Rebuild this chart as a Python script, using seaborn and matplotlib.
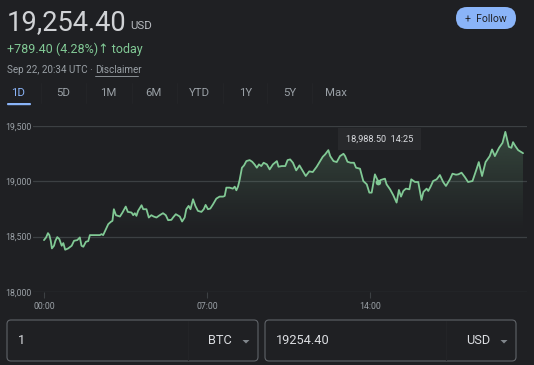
import numpy as np
import pandas as pd
import seaborn as sns
import matplotlib.pyplot as plt
from matplotlib.patches import FancyBboxPatch, Polygon, Rectangle
from matplotlib.lines import Line2D
from matplotlib.colors import to_rgb

# BTC price over the day (hours since 00:00 UTC, USD)
hours = [0.00, 0.09, 0.17, 0.23, 0.29, 0.34, 0.43, 0.49, 0.57, 0.66, 0.76, 0.83, 0.91,
         1.04, 1.19, 1.29, 1.43, 1.54, 1.61, 1.69, 1.80, 1.90, 1.97, 2.19, 2.40, 2.47,
         2.54, 2.66, 2.76, 2.87, 2.94, 3.00, 3.09, 3.26, 3.37, 3.51, 3.60, 3.76, 3.83,
         3.90, 3.97, 4.04, 4.19, 4.26, 4.40, 4.50, 4.61, 4.71, 4.83, 4.97, 5.11, 5.23,
         5.33, 5.47, 5.54, 5.66, 5.83, 5.93, 6.04, 6.11, 6.21, 6.29, 6.40, 6.50, 6.61,
         6.76, 6.86, 6.94, 7.04, 7.14, 7.26, 7.40, 7.54, 7.69, 7.76, 7.83, 7.97, 8.11,
         8.19, 8.26, 8.33, 8.40, 8.50, 8.59, 8.69, 8.83, 8.94, 9.04, 9.14, 9.23, 9.33,
         9.43, 9.57, 9.69, 9.83, 10.00, 10.07, 10.21, 10.36, 10.46, 10.57, 10.69, 10.83,
         10.97, 11.24, 11.39, 11.54, 11.71, 11.97, 12.07, 12.21, 12.29, 12.43, 12.57,
         12.71, 12.86, 12.93, 13.03, 13.17, 13.31, 13.40, 13.57, 13.71, 13.86, 13.97,
         14.07, 14.21, 14.36, 14.46, 14.64, 14.71, 14.86, 15.00, 15.14, 15.24, 15.33,
         15.43, 15.54, 15.69, 15.77, 15.93, 16.07, 16.21, 16.29, 16.43, 16.50, 16.60,
         16.71, 16.86, 17.00, 17.14, 17.26, 17.43, 17.54, 17.69, 17.79, 17.93, 18.07,
         18.21, 18.40, 18.57, 18.67, 18.81, 18.96, 19.14, 19.24, 19.36, 19.54, 19.69,
         19.81, 19.96, 20.07, 20.14, 20.24, 20.36, 20.57]
prices = [18469, 18493, 18532, 18514, 18463, 18394, 18418, 18463, 18496, 18478, 18418,
          18442, 18382, 18394, 18418, 18463, 18469, 18493, 18418, 18409, 18454, 18460,
          18514, 18514, 18514, 18523, 18514, 18568, 18613, 18634, 18643, 18748, 18694,
          18682, 18718, 18772, 18724, 18718, 18694, 18712, 18688, 18733, 18784, 18748,
          18748, 18673, 18694, 18682, 18673, 18694, 18712, 18694, 18649, 18652, 18673,
          18703, 18682, 18637, 18673, 18748, 18778, 18748, 18838, 18778, 18733, 18724,
          18748, 18787, 18748, 18754, 18793, 18844, 18862, 18862, 18868, 18943, 18943,
          18934, 18952, 18919, 18952, 19012, 19123, 19144, 19183, 19192, 19177, 19153,
          19123, 19153, 19138, 19168, 19153, 19108, 19153, 19183, 19132, 19138, 19138,
          19192, 19198, 19168, 19099, 19144, 19048, 19090, 19084, 19132, 19222, 19243,
          19282, 19228, 19183, 19174, 19228, 19249, 19228, 19177, 19168, 19168, 19123,
          19114, 19003, 18973, 18898, 18898, 19063, 18994, 19012, 19024, 18973, 18928,
          18874, 18808, 18922, 18862, 18913, 18934, 18928, 19018, 18994, 18994, 18832,
          18904, 18934, 18913, 18952, 19003, 19018, 19057, 18994, 18958, 19018, 19069,
          19060, 19063, 19078, 19039, 18994, 19003, 19108, 19174, 19048, 19174, 19228,
          19288, 19228, 19303, 19348, 19447, 19312, 19303, 19354, 19318, 19282, 19254.4]

y_ticks = [18000, 18500, 19000, 19500]
x_ticks = [0, 7, 14]
x_labels = ['00:00', '07:00', '14:00']
tabs = ['1D', '5D', '1M', '6M', 'YTD', '1Y', '5Y', 'Max']
hover_hour, hover_price, hover_time = 14.36, 18988.50, '14:25'

bg = '#1f2023'
green = '#81c995'
grid_c = '#3c4043'
grey = '#9aa0a6'
light = '#dadce0'

sns.set_theme(style='dark', rc={'figure.facecolor': bg, 'axes.facecolor': bg})
plt.rcParams['font.family'] = ['Roboto', 'DejaVu Sans']

W, H = 534, 365
fig = plt.figure(figsize=(W / 100, H / 100), dpi=100)

# overlay in pixel coordinates for the page chrome
ov = fig.add_axes([0, 0, 1, 1])
ov.set_xlim(0, W)
ov.set_ylim(H, 0)
ov.axis('off')
ov.set_facecolor('none')

ov.text(7, 30, '19,254.40', fontsize=19.6, color='#d0d2d5')
ov.text(130, 29, 'USD', fontsize=8.2, color='#b8bbc0')
ov.text(7, 53, '+789.40 (4.28%)\u2191 today', fontsize=9, color=green)
ov.text(7, 73, 'Sep 22, 20:34 UTC \u00b7', fontsize=7.1, color=grey)
ov.text(95, 73, 'Disclaimer', fontsize=7.1, color=grey)
ov.add_line(Line2D([95, 138], [75.5, 75.5], color=grey, lw=0.6))

# Follow button
ov.add_patch(FancyBboxPatch((456, 7), 60, 22, boxstyle='round,pad=0,rounding_size=11',
                            facecolor='#8ab4f8', edgecolor='none'))
ov.text(486, 18.5, '+  Follow', fontsize=7.5, color='#202124', ha='center', va='center')

# range tabs
tab_x = [18, 63, 108, 153, 199, 246, 290, 336]
for i, (t, x) in enumerate(zip(tabs, tab_x)):
    ov.text(x, 93, t, fontsize=8.2, ha='center', va='center',
            color='#8ab4f8' if i == 0 else grey)
for x in [41, 86, 132, 177, 223, 267, 312]:
    ov.add_line(Line2D([x, x], [83, 103], color='#232427', lw=0.8))
ov.add_patch(FancyBboxPatch((7, 103), 24, 2.2, boxstyle='round,pad=0,rounding_size=1',
                            facecolor='#8ab4f8', edgecolor='none'))

# converter boxes
for x0, left_txt, unit, sep in [(7, '1', 'BTC', 188), (265, '19254.40', 'USD', 446)]:
    ov.add_patch(FancyBboxPatch((x0, 320), 251, 41, boxstyle='round,pad=0,rounding_size=4',
                                facecolor='none', edgecolor='#5f6368', lw=0.8))
    ov.add_line(Line2D([sep, sep], [321, 360], color='#232427', lw=0.8))
    ov.text(x0 + 11, 341, left_txt, fontsize=9.2, color=light, va='center')
    ov.text(x0 + 225, 341, unit, fontsize=9.2, color=light, va='center', ha='right')
    tx = x0 + 239
    ov.add_patch(Polygon([(tx - 3.5, 340), (tx + 3.5, 340), (tx, 343.5)],
                         closed=True, facecolor='#80868b', edgecolor='none'))

# price chart
ax = fig.add_axes([33 / W, 73 / H, 494 / W, 166 / H])
df = pd.DataFrame({'hour': hours, 'price': prices})

verts = [(hours[0], 18000)] + list(zip(hours, prices)) + [(hours[-1], 18000)]
clip = Polygon(verts, closed=True, facecolor='none', edgecolor='none')
ax.add_patch(clip)
grad = np.zeros((256, 1, 4))
grad[:, 0, :3] = to_rgb(green)
grad[:, 0, 3] = np.linspace(0.0, 0.3, 256) ** 1.2
img = ax.imshow(grad, extent=[hours[0], hours[-1], 18520, 19450], origin='lower',
                aspect='auto', zorder=1, interpolation='bilinear')
img.set_clip_path(clip)

sns.lineplot(data=df, x='hour', y='price', ax=ax, color=green, lw=1.3, zorder=3)
ax.scatter([hover_hour], [hover_price], s=16, color=green, zorder=4, edgecolor='none')

ax.set_xlim(-0.472, 20.74)
ax.set_ylim(18000, 19500)
ax.set_yticks(y_ticks)
ax.set_yticklabels([f'{v:,}' for v in y_ticks])
ax.set_xticks(x_ticks)
ax.set_xticklabels(x_labels)
ax.set_xlabel('')
ax.set_ylabel('')
ax.grid(False)
for v in y_ticks:
    ax.axhline(v, color=grid_c, lw=0.9, zorder=0)
for s in ax.spines.values():
    s.set_visible(False)
ax.tick_params(axis='y', length=0, pad=1, labelcolor=grey, labelsize=6.3)
ax.tick_params(axis='x', length=4, width=0.8, color=grid_c, pad=3,
               labelcolor=grey, labelsize=6.3, bottom=True)

# hover tooltip
ov.add_patch(Rectangle((338, 128), 83, 22, facecolor='#28292c', edgecolor='none', zorder=5))
ov.text(379.5, 139, f'{hover_price:,.2f}  {hover_time}', fontsize=6.6, color=light,
        ha='center', va='center', zorder=6)
ov.set_zorder(ax.get_zorder() + 1)

fig.savefig('out.png', dpi=100, facecolor=bg)
